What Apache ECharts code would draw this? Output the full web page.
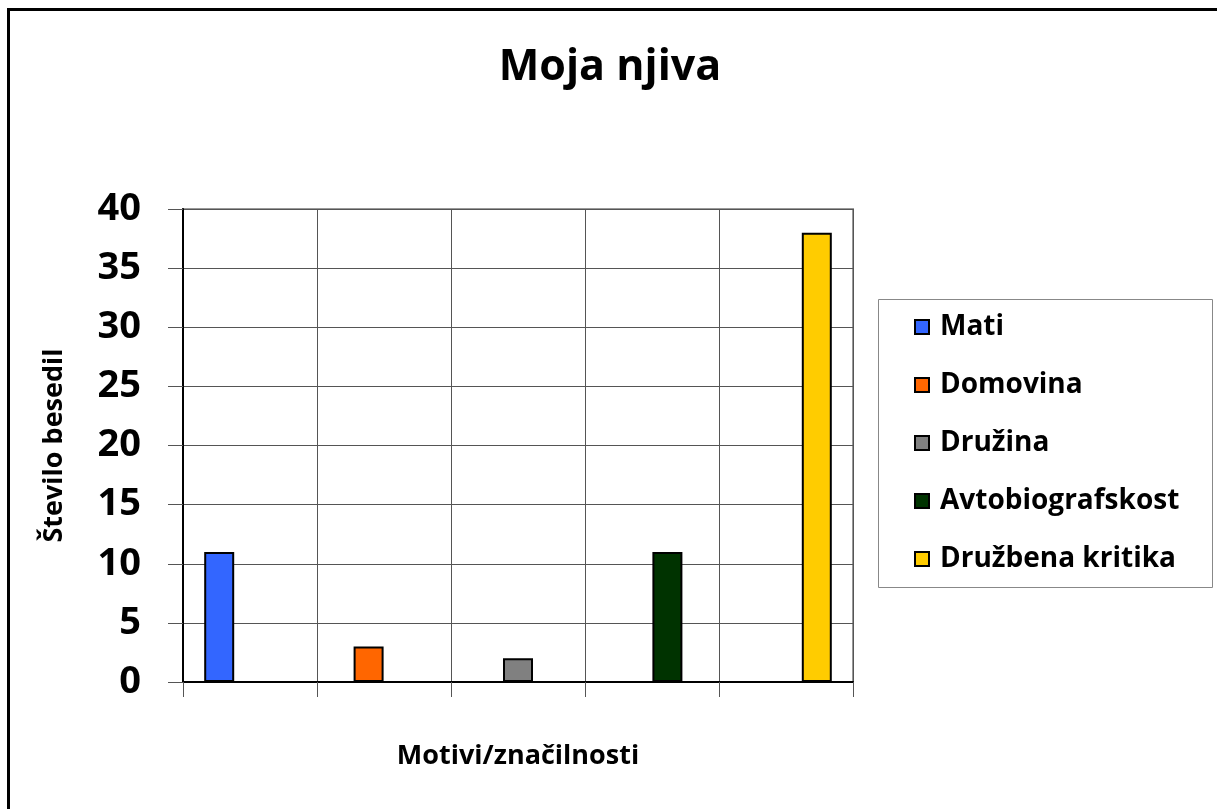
<!DOCTYPE html>
<html><head><meta charset="utf-8">
<script src="https://cdn.jsdelivr.net/npm/echarts@6/dist/echarts.min.js"></script>
<style>html,body{margin:0;padding:0;background:#fff}#c{width:1217px;height:809px}</style>
</head><body><div id="c"></div>
<script>
const title = 'Moja njiva';
const categories = [''];
const seriesNames = ['Mati', 'Domovina', 'Družina', 'Avtobiografskost', 'Družbena kritika'];
const seriesValues = [11, 3, 2, 11, 38];
const seriesColors = ['#3366FF', '#FF6600', '#808080', '#003300', '#FFCC00'];
const yTicks = { min: 0, max: 40, interval: 5 };
const xName = 'Motivi/značilnosti';
const yName = 'Število besedil';

const FONT = 'Open Sans';
const chart = echarts.init(document.getElementById('c'), null, { renderer: 'canvas' });
const series = seriesNames.map((n, i) => ({
  name: n, type: 'bar', xAxisIndex: 0, yAxisIndex: 0,
  data: [seriesValues[i]], barWidth: 30, barGap: '398%',
  itemStyle: { color: seriesColors[i], borderColor: '#000', borderWidth: 2 }
}));
chart.setOption({
  animation: false,
  backgroundColor: '#fff',
  title: { text: title, left: 605, top: 41, textAlign: 'center',
    textStyle: { fontFamily: FONT, fontWeight: 'bold', fontSize: 43, color: '#000' } },
  grid: { left: 183, right: 364, top: 209, bottom: 127, containLabel: false,
    show: true, borderColor: '#999', borderWidth: 2 },
  legend: { orient: 'vertical', left: 914, top: 312, padding: 0, itemGap: 28,
    itemWidth: 14, itemHeight: 14, icon: 'rect',
    data: seriesNames,
    itemStyle: { borderColor: '#000', borderWidth: 2 },
    textStyle: { fontFamily: FONT, fontWeight: 'bold', fontSize: 28, color: '#000', lineHeight: 30, padding: [0, 0, 0, 6] } },
  xAxis: [
    { type: 'category', data: categories, position: 'bottom',
      name: xName, nameLocation: 'middle', nameGap: 61,
      nameTextStyle: { fontFamily: FONT, fontWeight: 'bold', fontSize: 27, color: '#000' },
      axisLine: { show: true, lineStyle: { color: '#000', width: 2 } },
      axisTick: { show: false }, axisLabel: { show: false }, splitLine: { show: false } },
    { type: 'value', min: 0, max: 5, interval: 1, position: 'bottom',
      axisLine: { show: false },
      axisTick: { show: true, inside: false, length: 15, lineStyle: { color: '#555', width: 1 } },
      axisLabel: { show: false },
      splitLine: { show: true, lineStyle: { color: '#555', width: 1 } } }
  ],
  yAxis: { type: 'value', min: yTicks.min, max: yTicks.max, interval: yTicks.interval,
    name: yName, nameLocation: 'middle', nameGap: 115, nameRotate: 90,
    nameTextStyle: { fontFamily: FONT, fontWeight: 'bold', fontSize: 27, color: '#000' },
    axisLine: { show: true, lineStyle: { color: '#000', width: 2 } },
    axisTick: { show: true, length: 15, lineStyle: { color: '#555', width: 1 } },
    axisLabel: { margin: 42, fontFamily: FONT, fontWeight: 'bold', fontSize: 38, color: '#000' },
    splitLine: { show: true, lineStyle: { color: '#555', width: 1 } } },
  graphic: [
    { type: 'rect', shape: { x: 8.5, y: 9.5, width: 1300, height: 900 },
      style: { fill: null, stroke: '#000', lineWidth: 3 }, silent: true },
    { type: 'rect', shape: { x: 878.5, y: 299.5, width: 334, height: 288 },
      style: { fill: null, stroke: '#888', lineWidth: 1 }, silent: true }
  ],
  series: series
});
</script></body></html>
